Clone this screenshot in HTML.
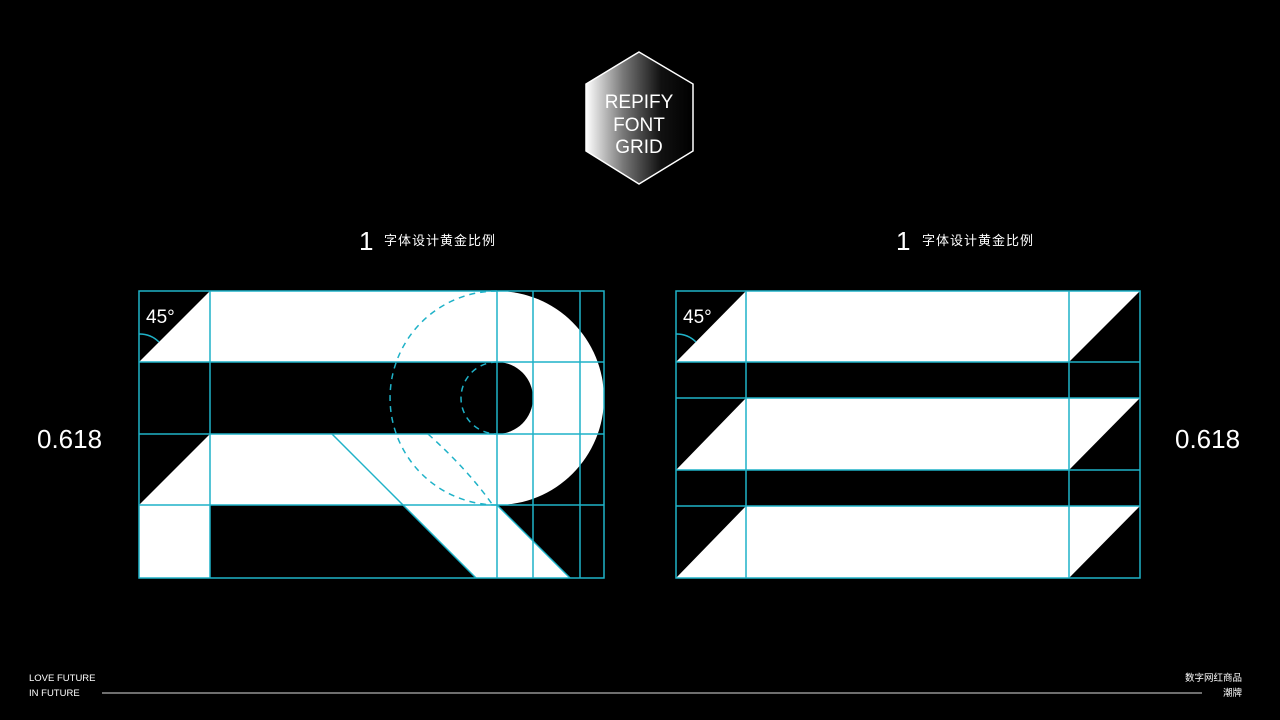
<!DOCTYPE html>
<html><head><meta charset="utf-8"><style>
html,body{margin:0;padding:0;background:#000;}
svg{display:block}
text{font-family:"Liberation Sans","Noto Sans CJK SC",sans-serif;fill:#fff}
</style></head><body>
<svg width="1280" height="720" viewBox="0 0 1280 720" xmlns="http://www.w3.org/2000/svg">
<defs>
<linearGradient id="hg" x1="586" y1="0" x2="693" y2="0" gradientUnits="userSpaceOnUse">
<stop offset="0" stop-color="#fff"/><stop offset="0.35" stop-color="#777"/><stop offset="0.7" stop-color="#111"/><stop offset="1" stop-color="#000"/>
</linearGradient>
<mask id="hole">
<rect x="0" y="0" width="1280" height="720" fill="#fff"/>
<circle cx="497" cy="398" r="36" fill="#000"/>
</mask>
</defs>
<rect width="1280" height="720" fill="#000"/>
<!-- hexagon -->
<polygon points="639,52 693,84 693,151 639,184 586,151 586,84" fill="url(#hg)" stroke="#fff" stroke-width="1.5"/>
<text x="639" y="108" font-size="19" text-anchor="middle">REPIFY</text>
<text x="639" y="131" font-size="19" text-anchor="middle">FONT</text>
<text x="639" y="153" font-size="19" text-anchor="middle">GRID</text>
<!-- headings -->
<text x="359" y="250" font-size="26" font-weight="300">1</text>
<text x="384" y="245" font-size="13" fill="#ddd" letter-spacing="1">字体设计黄金比例</text>
<text x="896" y="250" font-size="26" font-weight="300">1</text>
<text x="922" y="245" font-size="13" fill="#ddd" letter-spacing="1">字体设计黄金比例</text>
<text x="37" y="448" font-size="26">0.618</text>
<text x="1175" y="448" font-size="26">0.618</text>

<!-- LEFT R -->
<g fill="#fff">
<polygon points="139,362 210,291 497,291 497,362"/>
<polygon points="139,505 210,434 497,434 497,505"/>
<rect x="139" y="505" width="71" height="73"/>
<polygon points="403,505 497,505 570,578 476,578"/>
<path d="M497,291 A107,107 0 0 1 497,505 Z" mask="url(#hole)"/>
<rect x="497" y="362" width="1" height="72" fill="#fff" mask="url(#hole)"/>
</g>
<circle cx="497" cy="398" r="0" />
<g stroke="#1fb2c8" stroke-width="1.5" fill="none">
<rect x="139" y="291" width="465" height="287"/>
<line x1="139" y1="362" x2="604" y2="362"/>
<line x1="139" y1="434" x2="604" y2="434"/>
<line x1="139" y1="505" x2="604" y2="505"/>
<line x1="210" y1="291" x2="210" y2="578"/>
<line x1="497" y1="291" x2="497" y2="578"/>
<line x1="533" y1="291" x2="533" y2="578"/>
<line x1="580" y1="291" x2="580" y2="578"/>
<line x1="332" y1="434" x2="476" y2="578"/>
<line x1="497" y1="505" x2="570" y2="578"/>
<path d="M139,334 A28,28 0 0 1 159,342"/>
<path d="M497,291 A107,107 0 0 0 497,505" stroke-dasharray="6,5"/>
<path d="M497,362 A36,36 0 0 0 497,434" stroke-dasharray="6,5"/>
<path d="M428,434 Q468,470 492,504" stroke-dasharray="6,5"/>
</g>
<text x="146" y="323" font-size="19">45°</text>

<!-- RIGHT -->
<g fill="#fff">
<polygon points="676,362 746,291 1140,291 1069,362"/>
<polygon points="676,470 746,398 1140,398 1069,470"/>
<polygon points="676,578 746,506 1140,506 1069,578"/>
</g>
<g stroke="#1fb2c8" stroke-width="1.5" fill="none">
<rect x="676" y="291" width="464" height="287"/>
<line x1="676" y1="362" x2="1140" y2="362"/>
<line x1="676" y1="398" x2="1140" y2="398"/>
<line x1="676" y1="470" x2="1140" y2="470"/>
<line x1="676" y1="506" x2="1140" y2="506"/>
<line x1="746" y1="291" x2="746" y2="578"/>
<line x1="1069" y1="291" x2="1069" y2="578"/>
<path d="M676,334 A28,28 0 0 1 696,342"/>
</g>
<text x="683" y="323" font-size="19">45°</text>

<!-- footer -->
<text x="29" y="681" font-size="9.5">LOVE FUTURE</text>
<text x="29" y="696" font-size="9.5">IN FUTURE</text>
<line x1="102" y1="693" x2="1202" y2="693" stroke="#ddd" stroke-width="1"/>
<text x="1242" y="681" font-size="9.5" text-anchor="end">数字网红商品</text>
<text x="1242" y="696" font-size="9.5" text-anchor="end">潮牌</text>
</svg>
</body></html>
